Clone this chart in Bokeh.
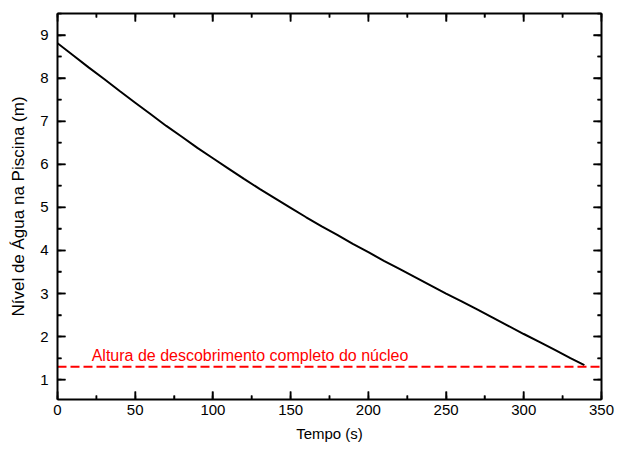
import numpy as np
from bokeh.plotting import figure
from bokeh.models import (LinearAxis, SingleIntervalTicker, Range1d, Label,
                          CustomJSTickFormatter, ColumnDataSource)
from bokeh.embed import file_html
from bokeh.resources import INLINE

# ---- data ----
tempo = [0, 10, 20, 30, 40, 50, 60, 70, 80, 90, 100, 110, 120, 130, 140,
         150, 160, 170, 180, 190, 200, 210, 220, 230, 240, 250, 260, 270,
         280, 290, 300, 310, 320, 330, 339]
nivel = [8.81, 8.53, 8.25, 7.98, 7.70, 7.43, 7.16, 6.89, 6.64, 6.38, 6.14,
         5.90, 5.66, 5.43, 5.21, 4.99, 4.77, 4.56, 4.36, 4.15, 3.96, 3.76,
         3.57, 3.38, 3.19, 3.00, 2.82, 2.63, 2.44, 2.25, 2.06, 1.88, 1.69,
         1.50, 1.34]
limite_nucleo = 1.3
limite_label = "Altura de descobrimento completo do núcleo"
label_x = 22
label_y = 1.56
x_label = "Tempo (s)"
y_label = "Nível de Água na Piscina (m)"
x_min, x_max = 0, 350
y_min, y_max = 0.54, 9.5
x_step, y_step = 50, 1

FONT = "Liberation Sans"

p = figure(width=620, height=446, output_backend="svg", toolbar_location=None,
           x_range=Range1d(x_min, x_max), y_range=Range1d(y_min, y_max),
           min_border_left=57, min_border_right=19, min_border_top=13,
           min_border_bottom=47)
p.xaxis.visible = False
p.yaxis.visible = False
p.grid.visible = False
p.outline_line_color = None
p.background_fill_color = "white"
p.border_fill_color = "white"

def style_axis(ax, ticker, labels=True):
    ax.ticker = ticker
    ax.axis_line_width = 2
    ax.axis_line_color = "black"
    ax.major_tick_in = 8
    ax.major_tick_out = 0
    ax.minor_tick_in = 4
    ax.minor_tick_out = 0
    ax.major_tick_line_width = 1.5
    ax.minor_tick_line_width = 1.5
    ax.major_tick_line_color = "black"
    ax.minor_tick_line_color = "black"
    ax.major_label_text_font = FONT
    ax.major_label_text_font_size = "15px"
    ax.major_label_text_color = "black"
    ax.axis_label_text_font = FONT
    ax.axis_label_text_font_style = "normal"
    ax.axis_label_text_color = "black"
    if not labels:
        ax.formatter = CustomJSTickFormatter(code="return ''")
        ax.major_label_standoff = 0

xt = lambda: SingleIntervalTicker(interval=x_step, num_minor_ticks=2)
yt = lambda: SingleIntervalTicker(interval=y_step, num_minor_ticks=2)

xb = LinearAxis(axis_label=x_label)
style_axis(xb, xt())
xb.major_label_standoff = 5
xb.axis_label_standoff = 7
xb.axis_label_text_font_size = "15px"
p.add_layout(xb, "below")

yl = LinearAxis(axis_label=y_label)
style_axis(yl, yt())
yl.major_label_standoff = 9
yl.axis_label_standoff = 9
yl.axis_label_text_font_size = "17px"
p.add_layout(yl, "left")

xa = LinearAxis()
style_axis(xa, xt(), labels=False)
p.add_layout(xa, "above")

yr = LinearAxis()
style_axis(yr, yt(), labels=False)
p.add_layout(yr, "right")

# inward tick marks (drawn as clipped dashes centred on the frame edges)
xmaj = np.arange(x_min, x_max + 0.1, x_step)
xmin_ = np.arange(x_min + x_step / 2, x_max, x_step)
ymaj = np.arange(1, y_max + 0.01, y_step)
ymin_ = np.arange(1.5, y_max + 0.01, y_step)
for xs, sz in ((xmaj, 16), (xmin_, 8)):
    for yy in (y_min, y_max):
        p.scatter(xs, [yy] * len(xs), marker="dash", angle=np.pi / 2,
                  size=sz, line_color="black", line_width=1.5)
for ys, sz in ((ymaj, 16), (ymin_, 8)):
    for xx in (x_min, x_max):
        p.scatter([xx] * len(ys), ys, marker="dash", size=sz,
                  line_color="black", line_width=1.5)

src = ColumnDataSource(dict(t=tempo, h=nivel))
p.line("t", "h", source=src, line_color="black", line_width=2)

p.line([x_min, x_max], [limite_nucleo, limite_nucleo], line_color="#ff0000",
       line_width=2, line_dash="9 4")

p.add_layout(Label(x=label_x, y=label_y, text=limite_label,
                   text_font=FONT, text_font_size="16px", text_color="#ff0000",
                   text_baseline="alphabetic", text_align="left"))

open("out.html", "w").write(file_html(p, INLINE))
